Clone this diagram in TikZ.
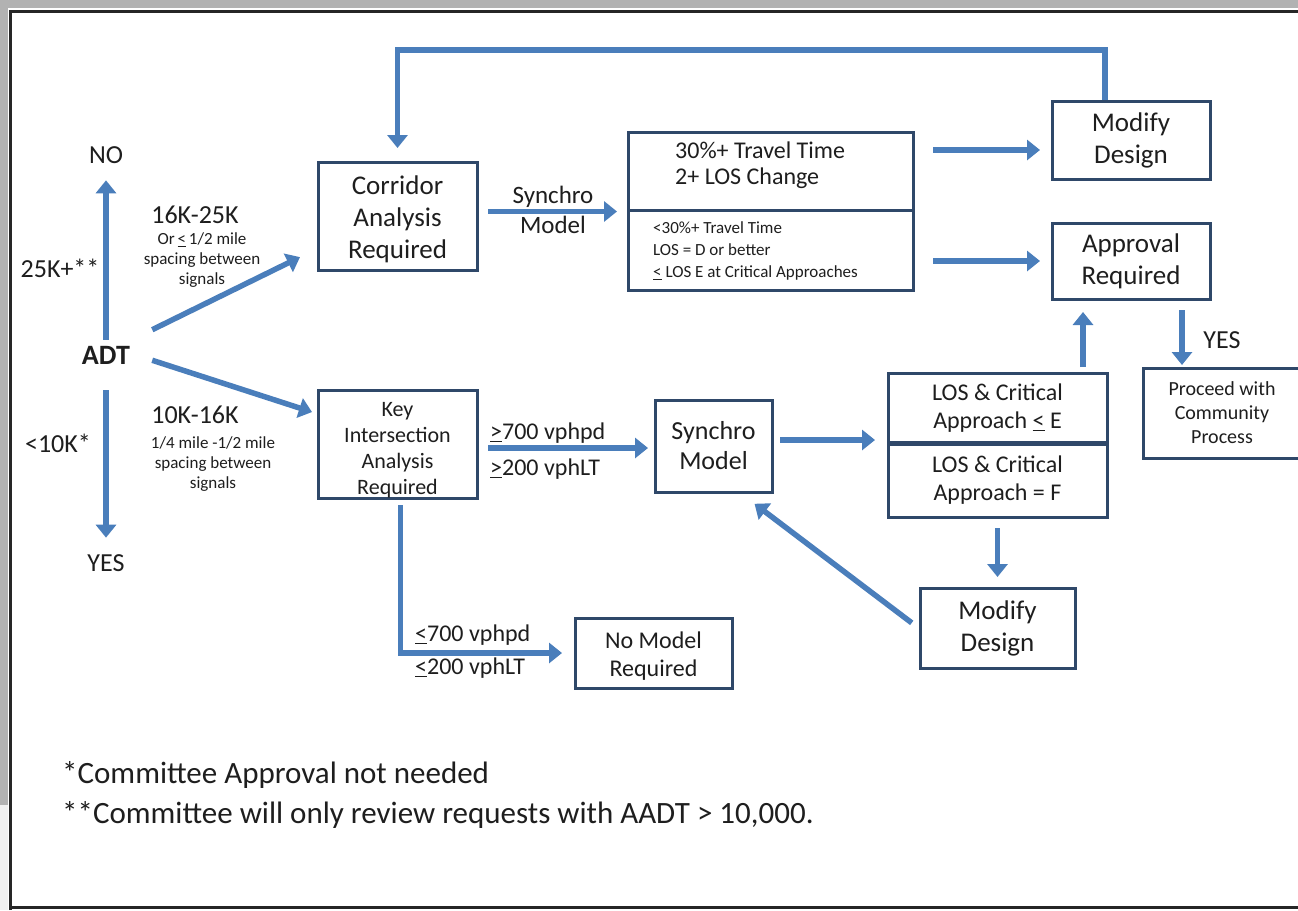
\documentclass[tikz,border=0pt]{standalone}
\usepackage{fontspec}
\setmainfont{Carlito}
\usetikzlibrary{arrows.meta,calc}
\definecolor{arrc}{RGB}{74,126,187}
\definecolor{boxc}{RGB}{47,72,105}
\definecolor{txtc}{RGB}{30,30,30}
\definecolor{framegray}{RGB}{178,178,178}
\newcommand{\myle}{\underline{<}}
\newcommand{\myge}{\underline{>}}
\begin{document}
\begin{tikzpicture}[x=1pt,y=-1pt,
  arr/.style={-{Triangle[width=20pt,length=13pt]}, line width=5.5pt, draw=arrc},
  box/.style={draw=boxc, line width=3pt, inner sep=0pt, align=center, text=txtc},
  lab/.style={inner sep=0pt, align=center, text=txtc},
  f27/.style={font=\fontsize{27}{32}\selectfont},
  f26/.style={font=\fontsize{26}{30}\selectfont},
  f25/.style={font=\fontsize{25}{30}\selectfont},
  f24/.style={font=\fontsize{24}{28}\selectfont},
  f24t/.style={font=\fontsize{24}{26}\selectfont},
  f22/.style={font=\fontsize{22}{26}\selectfont},
  f20/.style={font=\fontsize{20}{24}\selectfont},
  f17/.style={font=\fontsize{17}{20}\selectfont},
  f17b/.style={font=\fontsize{17}{22}\selectfont},
  f31/.style={font=\fontsize{31}{36}\selectfont}
]
\clip (0,0) rectangle (1298,910);
\fill[white] (0,0) rectangle (1298,910);
% screenshot frame
\fill[framegray] (0,0) rectangle (1298,8);
\fill[framegray] (0,0) rectangle (8,805);
\fill[black!6] (0,805) rectangle (8,910);
\draw[line width=3pt, black!85] (10,910) -- (10,11) -- (1298,11);
\draw[line width=3pt, black!85] (10,907.5) -- (1298,907.5);

% left labels
\node[lab,f26] (no) at (106,155) {NO};
\node[lab,font=\bfseries\fontsize{28}{32}\selectfont] (adt) at (106,355) {ADT};
\node[lab,f26] (yes) at (106,563) {YES};
\node[lab,f26] (l25) at (60,268) {25K+**};
\node[lab,f26] (l10) at (58,443) {<10K*};
\node[lab,f26] (l1625) at (195,215) {16K-25K};
\node[lab,f17] (s1625) at (202,260) {Or\,\myle\,1/2 mile\\spacing between\\signals};
\node[lab,f26] (l1016) at (195,415) {10K-16K};
\node[lab,f17] (s1016) at (213,464) {1/4 mile -1/2 mile\\spacing between\\signals};

% boxes
\node[box,f27,minimum width=159pt,minimum height=108pt] (corr) at (397.5,216) {\rule{0pt}{26pt}Corridor\\Analysis\\Required};
\node[box,f22,minimum width=159pt,minimum height=108pt] (key) at (397.5,444) {\rule{0pt}{26pt}Key\\Intersection\\Analysis\\Required};
\node[box,minimum width=285pt,minimum height=78pt] (evt) at (770.5,171) {};
\node[box,minimum width=285pt,minimum height=80pt] (evb) at (770.5,250) {};
\node[lab,f24t,align=left,anchor=west] (evtx) at (675,165) {30\%+ Travel Time\\2+ LOS Change};
\node[lab,f17b,align=left,anchor=west] (evbx) at (653,251) {<30\%+ Travel Time\\LOS = D or better\\\myle{} LOS E at Critical Approaches};
\node[box,f27,minimum width=158pt,minimum height=78pt] (modT) at (1131,140) {Modify\\Design};
\node[box,f27,minimum width=158pt,minimum height=76pt] (appr) at (1131,261) {Approval\\Required};
\node[box,f20,minimum width=158pt,minimum height=90pt] (proc) at (1222,413) {Proceed with\\Community\\Process};
\node[box,f26,minimum width=117pt,minimum height=92pt] (syn) at (713.5,446) {Synchro\\Model};
\node[box,f24,minimum width=219pt,minimum height=70pt] (losT) at (997.5,408) {LOS \& Critical\\Approach \myle{} E};
\node[box,f24,minimum width=219pt,minimum height=74pt] (losB) at (997.5,480) {LOS \& Critical\\Approach = F};
\draw[boxc,line width=5pt] ($(losT.south west)+(1.5,-1.5)$) -- ($(losT.south east)+(-1.5,-1.5)$);
\node[box,f24,minimum width=157pt,minimum height=70pt] (nomod) at (653.5,653) {\rule{0pt}{22pt}No Model\\Required};
\node[box,f27,minimum width=155pt,minimum height=80pt] (modB) at (997.5,628) {Modify\\Design};

% arrow labels
\node[lab,f25] (smlab) at (553,210) {Synchro\\Model};
\node[lab,f24,anchor=west] (g700) at (490,433) {\myge700 vphpd};
\node[lab,f24,anchor=west] (g200) at (490,469) {\myge200 vphLT};
\node[lab,f24,anchor=west] (l700) at (415,635) {\myle700 vphpd};
\node[lab,f24,anchor=west] (l200) at (415,668) {\myle200 vphLT};
\node[lab,f26] (yes2) at (1222,340) {YES};

% footnotes
\node[lab,f31,anchor=west] (fn1) at (62,775) {*Committee Approval not needed};
\node[lab,f31,anchor=west] (fn2) at (62,815) {**Committee will only review requests with AADT > 10,000.};

% arrows
\draw[arr, shorten <=6pt, shorten >=16.6pt] (adt.north) -- (no.south);
\draw[arr, shorten <=26pt, shorten >=16.6pt] (adt.south) -- (yes.north);
\draw[arr, shorten >=18.4pt] ($(adt.north east)+(22,-16)$) -- ($(corr.west)+(0,33)$);
\draw[arr, shorten >=4.7pt] ($(adt.south east)+(22,-4)$) -- ($(key.west)+(0,-30.5)$);
\draw[arr, shorten <=9.5pt, shorten >=9.5pt] (corr.east |- evt.south) -- (evt.south west);
\draw[arr, shorten <=18.5pt, shorten >=10.5pt] ($(evt.east |- modT.west)+(0,10)$) -- ($(modT.west)+(0,10)$);
\draw[arr, shorten <=18.5pt, shorten >=10.5pt] (evb.east |- appr.west) -- (appr.west);
\draw[arr] ($(modT.north)+(-26,0)$) -- ++(0,-49.5) -| ($(corr.north)+(0,-12.5)$);
\draw[arr, shorten <=9.5pt, shorten >=1.5pt] ($(appr.south)+(51,0)$) -- ($(appr.south)+(51,66)$);
\draw[arr, shorten <=4.5pt, shorten >=11.5pt] ($(losT.north)+(85.5,0)$) -- ($(losT.north)+(85.5,-71)$);
\draw[arr, shorten <=9.5pt, shorten >=5.5pt] ($(key.east |- syn.west)+(0,2)$) -- ($(syn.west)+(0,2)$);
\draw[arr, shorten <=6.5pt, shorten >=11.5pt] ($(syn.east)+(0,-6)$) -- ($(syn.east -| losT.west)+(0,-6)$);
\draw[arr, shorten <=9.5pt, shorten >=9.5pt] (losB.south) -- (modB.north);
\draw[arr, shorten <=8.5pt, shorten >=17pt] (modB.west) -- ($(syn.south east)+(-32.5,0)$);
\draw[arr, shorten <=5.5pt, shorten >=11.5pt] ($(key.south)+(3,0)$) |- (nomod.west);
\end{tikzpicture}
\end{document}
